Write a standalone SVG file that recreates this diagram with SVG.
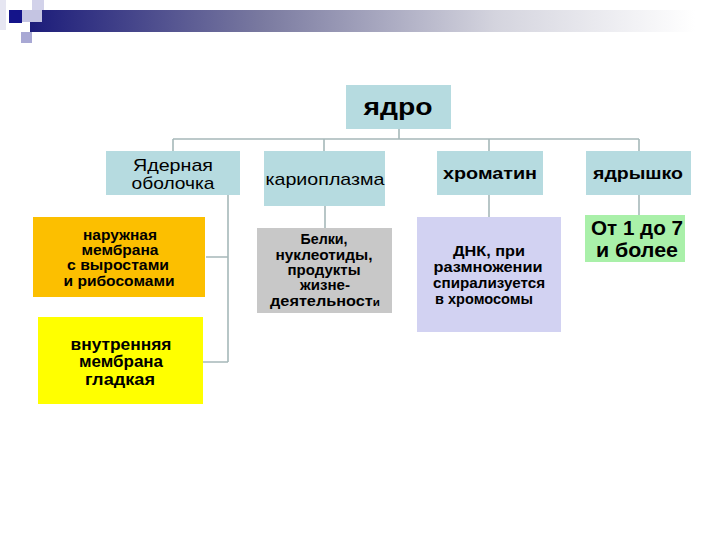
<svg xmlns="http://www.w3.org/2000/svg" width="720" height="540" viewBox="0 0 720 540">
<defs>
<linearGradient id="bar" x1="0" y1="0" x2="1" y2="0">
<stop offset="0" stop-color="#1c1c7a"/>
<stop offset="0.35" stop-color="#7a7aa0"/>
<stop offset="0.7" stop-color="#d4d4de"/>
<stop offset="1" stop-color="#ffffff"/>
</linearGradient>
<style>
.t{font-family:"Liberation Sans",Arial,sans-serif;fill:#000;text-anchor:middle}
.b{font-weight:bold}
.blue{fill:#b6dbe0}
.ln{stroke:#a6b8b9;stroke-width:1.6;fill:none}
</style>
</defs>
<rect width="720" height="540" fill="#fff"/>
<g id="header">
<rect x="30" y="10" width="665" height="22" fill="url(#bar)"/>
<rect x="0" y="0" width="6" height="30" fill="#e6e6f2"/>
<rect x="32" y="0" width="12" height="10" fill="#d2d2ea"/>
<rect x="22" y="10" width="20" height="12" fill="#c4c4e2"/>
<rect x="9" y="10" width="13" height="13" fill="#14148a"/>
<rect x="21" y="32" width="11" height="11" fill="#a8a8d4"/>
</g>
<g id="connectors" class="ln">
<path d="M399 129V139M173 139H639M173 139V151M324 139V151M489 139V151M639 139V151"/>
<path d="M228 195V362M206 257H228M203 362H228"/>
<path d="M325 206V228"/>
<path d="M489 195V217"/>
<path d="M639 195V215"/>
</g>
<g id="root">
<rect class="blue" x="346" y="85" width="105" height="44"/>
<text class="t b" x="398" y="115" font-size="23" textLength="69" lengthAdjust="spacingAndGlyphs">ядро</text>
</g>
<g id="n-obolochka">
<rect class="blue" x="106" y="151" width="134" height="44"/>
<text class="t" x="173" y="171" font-size="17" textLength="80" lengthAdjust="spacingAndGlyphs">Ядерная</text>
<text class="t" x="173" y="189" font-size="17" textLength="83" lengthAdjust="spacingAndGlyphs">оболочка</text>
</g>
<g id="n-karioplazma">
<rect class="blue" x="264" y="151" width="121" height="55"/>
<text class="t" x="325" y="185" font-size="17" textLength="119" lengthAdjust="spacingAndGlyphs">кариоплазма</text>
</g>
<g id="n-hromatin">
<rect class="blue" x="437" y="151" width="106" height="44"/>
<text class="t b" x="490" y="179" font-size="16" textLength="94" lengthAdjust="spacingAndGlyphs">хроматин</text>
</g>
<g id="n-yadryshko">
<rect class="blue" x="586" y="151" width="105" height="44"/>
<text class="t b" x="638" y="179" font-size="16" textLength="90" lengthAdjust="spacingAndGlyphs">ядрышко</text>
</g>
<g id="n-outer">
<rect x="33" y="217" width="172" height="80" fill="#fcbf00"/>
<text class="t b" x="120" y="240" font-size="14.5" textLength="74" lengthAdjust="spacingAndGlyphs">наружная</text>
<text class="t b" x="120" y="255" font-size="14.5" textLength="77" lengthAdjust="spacingAndGlyphs">мембрана</text>
<text class="t b" x="118" y="270" font-size="14.5" textLength="102" lengthAdjust="spacingAndGlyphs">с выростами</text>
<text class="t b" x="119" y="286" font-size="14.5" textLength="111" lengthAdjust="spacingAndGlyphs">и рибосомами</text>
</g>
<g id="n-inner">
<rect x="38" y="317" width="165" height="87" fill="#ffff00"/>
<text class="t b" x="121" y="350" font-size="16" textLength="101" lengthAdjust="spacingAndGlyphs">внутренняя</text>
<text class="t b" x="121" y="367" font-size="16" textLength="84" lengthAdjust="spacingAndGlyphs">мембрана</text>
<text class="t b" x="120" y="385" font-size="16" textLength="70" lengthAdjust="spacingAndGlyphs">гладкая</text>
</g>
<g id="n-belki">
<rect x="257" y="228" width="135" height="85" fill="#c8c8c8"/>
<text class="t b" x="324" y="244" font-size="14" textLength="47" lengthAdjust="spacingAndGlyphs">Белки,</text>
<text class="t b" x="324" y="260" font-size="14" textLength="97" lengthAdjust="spacingAndGlyphs">нуклеотиды,</text>
<text class="t b" x="324" y="275" font-size="14" textLength="73" lengthAdjust="spacingAndGlyphs">продукты</text>
<text class="t b" x="325" y="290" font-size="14" textLength="50" lengthAdjust="spacingAndGlyphs">жизне-</text>
<text class="t b" x="325" y="306" font-size="14" textLength="110" lengthAdjust="spacingAndGlyphs">деятельност<tspan font-size="10">и</tspan></text>
</g>
<g id="n-dnk">
<rect x="417" y="217" width="144" height="115" fill="#d2d2f2"/>
<text class="t b" x="489" y="256" font-size="14.5" textLength="72" lengthAdjust="spacingAndGlyphs">ДНК, при</text>
<text class="t b" x="488" y="272" font-size="14.5" textLength="109" lengthAdjust="spacingAndGlyphs">размножении</text>
<text class="t b" x="489" y="288" font-size="14.5" textLength="112" lengthAdjust="spacingAndGlyphs">спирализуется</text>
<text class="t b" x="484" y="304" font-size="14.5" textLength="98" lengthAdjust="spacingAndGlyphs">в хромосомы</text>
</g>
<g id="n-count">
<rect x="585" y="215" width="100" height="47" fill="#a9f0a9"/>
<text class="t b" x="637" y="235" font-size="20" textLength="92" lengthAdjust="spacingAndGlyphs">От 1 до 7</text>
<text class="t b" x="637" y="257" font-size="20" textLength="82" lengthAdjust="spacingAndGlyphs">и более</text>
</g>
</svg>
